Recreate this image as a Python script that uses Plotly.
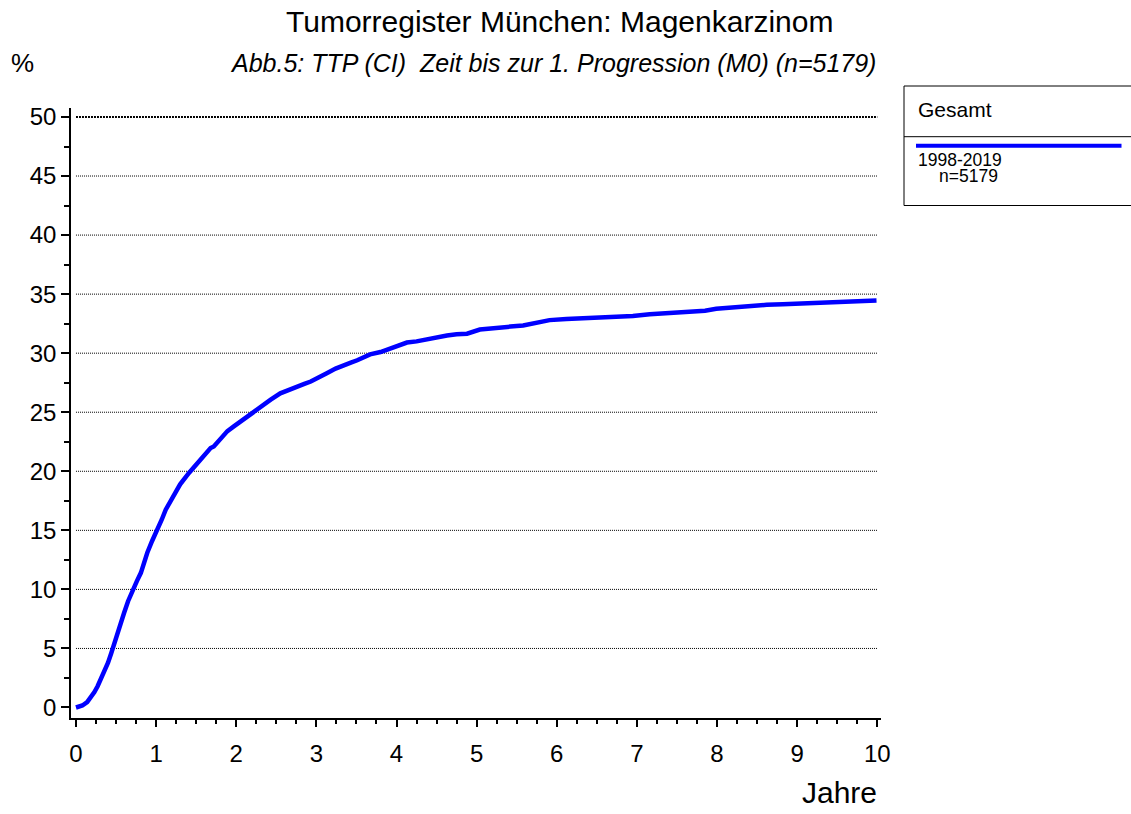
import plotly.graph_objects as go

# Data (years, cumulative incidence %)
years = [0, 0.03, 0.08, 0.14, 0.19, 0.23, 0.27, 0.31, 0.35, 0.40, 0.44, 0.48, 0.52, 0.56, 0.60,
         0.65, 0.71, 0.76, 0.81, 0.85, 0.89, 0.95, 1.02, 1.07, 1.12, 1.17, 1.22, 1.30, 1.41,
         1.50, 1.56, 1.60, 1.68, 1.72, 1.80, 1.89, 1.97, 2.05, 2.13, 2.22, 2.32, 2.43, 2.55,
         2.65, 2.76, 2.85, 2.93, 3.03, 3.13, 3.24, 3.34, 3.43, 3.51, 3.60, 3.67, 3.80, 3.92,
         4.03, 4.13, 4.25, 4.38, 4.50, 4.63, 4.75, 4.88, 5.04, 5.15, 5.29, 5.42, 5.58, 5.75,
         5.91, 6.12, 6.33, 6.54, 6.75, 6.95, 7.16, 7.42, 7.70, 7.85, 7.99, 8.20, 8.41, 8.62,
         8.82, 9.03, 9.24, 9.45, 9.70, 9.99]
ci = [0.0, 0.05, 0.17, 0.45, 0.87, 1.3, 1.8, 2.4, 3.07, 3.8, 4.6, 5.5, 6.3, 7.2, 8.0,
      9.0, 10.0, 10.7, 11.4, 12.3, 13.1, 14.1, 15.06, 15.9, 16.75, 17.4, 18.0, 18.9, 19.86,
      20.6, 20.98, 21.4, 21.97, 22.1, 22.7, 23.4, 23.8, 24.2, 24.6, 25.1, 25.6, 26.06, 26.6,
      26.9, 27.2, 27.4, 27.6, 27.9, 28.3, 28.7, 29.0, 29.2, 29.4, 29.7, 29.9, 30.1, 30.4,
      30.7, 30.9, 31.0, 31.2, 31.35, 31.5, 31.6, 31.65, 32.0, 32.1, 32.15, 32.25, 32.35, 32.55,
      32.8, 32.9, 32.95, 33.0, 33.1, 33.15, 33.3, 33.4, 33.5, 33.6, 33.76, 33.9, 34.04, 34.1,
      34.15, 34.2, 34.24, 34.33, 34.4, 34.46]

x_ticks = list(range(0, 11))
y_ticks = list(range(0, 55, 5))
grid_vals = list(range(5, 55, 5))

title = "Tumorregister München: Magenkarzinom"
subtitle = "Abb.5: TTP (CI)  Zeit bis zur 1. Progression (M0) (n=5179)"
legend_title = "Gesamt"
legend_label = "1998-2019"
legend_n = "n=5179"

FONT = "Liberation Sans, Arial, sans-serif"
W, H = 1131, 814
L, R, T, B = 71, 881, 108, 718


def px(xp):
    return (xp - L) / (R - L)


def py(yp):
    return (B - yp) / (B - T)


fig = go.Figure()
fig.add_trace(go.Scatter(x=years, y=ci, mode="lines",
                         line=dict(color="#0000FF", width=4.5, shape="linear"),
                         showlegend=False, hoverinfo="skip"))

shapes = []
for g in grid_vals:
    shapes.append(dict(type="line", xref="x", yref="y", x0=0, x1=10, y0=g, y1=g,
                       line=dict(color="black", width=2 if g == 50 else 1,
                                 dash="2px,1px" if g == 50 else "1px,1px"),
                       layer="below"))

# legend box
shapes.append(dict(type="rect", xref="paper", yref="paper",
                   x0=px(904), x1=px(1140), y0=py(205.5), y1=py(86),
                   line=dict(color="black", width=1)))
shapes.append(dict(type="line", xref="paper", yref="paper",
                   x0=px(904), x1=px(1140), y0=py(136.7), y1=py(136.7),
                   line=dict(color="black", width=1)))
shapes.append(dict(type="line", xref="paper", yref="paper",
                   x0=px(916), x1=px(1121.5), y0=py(145.7), y1=py(145.7),
                   line=dict(color="#0000FF", width=4)))

annotations = [
    dict(text=title, xref="paper", yref="paper", x=px(559), y=py(21), showarrow=False,
         font=dict(size=30, color="black", family=FONT), xanchor="center", yanchor="middle"),
    dict(text="<i>" + subtitle + "</i>", xref="paper", yref="paper", x=px(553), y=py(63),
         showarrow=False, font=dict(size=25, color="black", family=FONT),
         xanchor="center", yanchor="middle"),
    dict(text="%", xref="paper", yref="paper", x=px(9), y=py(63), showarrow=False,
         font=dict(size=26, color="black", family=FONT), xanchor="left", yanchor="middle"),
    dict(text="Jahre", xref="paper", yref="paper", x=px(879), y=py(792), showarrow=False,
         font=dict(size=30, color="black", family=FONT), xanchor="right", yanchor="middle"),
    dict(text=legend_title, xref="paper", yref="paper", x=px(916), y=py(110), showarrow=False,
         font=dict(size=21, color="black", family=FONT), xanchor="left", yanchor="middle"),
    dict(text=legend_label, xref="paper", yref="paper", x=px(916), y=py(160), showarrow=False,
         font=dict(size=17.5, color="black", family=FONT), xanchor="left", yanchor="middle"),
    dict(text=legend_n, xref="paper", yref="paper", x=px(937), y=py(176), showarrow=False,
         font=dict(size=17.5, color="black", family=FONT), xanchor="left", yanchor="middle"),
]

fig.update_layout(
    width=W, height=H,
    margin=dict(l=L, r=W - R, t=T, b=H - B, pad=0),
    paper_bgcolor="white", plot_bgcolor="white",
    font=dict(family=FONT, color="black"),
    shapes=shapes, annotations=annotations, showlegend=False,
)
fig.update_xaxes(range=[-0.062, 10.046], tickvals=x_ticks, ticktext=[str(v) for v in x_ticks],
                 showgrid=False, zeroline=False, showline=True, linecolor="black", linewidth=1.5,
                 ticks="outside", ticklen=7, tickwidth=1.5, tickcolor="black",
                 tickfont=dict(size=24, family=FONT, color="black"),
                 minor=dict(dtick=0.25, tick0=0, ticks="outside", ticklen=4, tickcolor="black",
                            tickwidth=1.5, showgrid=False),
                 ticklabelstandoff=6, fixedrange=True)
fig.update_yaxes(range=[-0.89, 50.76], tickvals=y_ticks, ticktext=[str(v) for v in y_ticks],
                 showgrid=False, zeroline=False, showline=True, linecolor="black", linewidth=1.5,
                 ticks="outside", ticklen=8, tickwidth=1.5, tickcolor="black",
                 tickfont=dict(size=24, family=FONT, color="black"),
                 minor=dict(dtick=2.5, tick0=0, ticks="outside", ticklen=5, tickcolor="black",
                            tickwidth=1.5, showgrid=False),
                 ticklabelstandoff=0, fixedrange=True)

fig.write_html("out.html", config={"displayModeBar": False},
               post_script="document.body.style.margin='0px';")
